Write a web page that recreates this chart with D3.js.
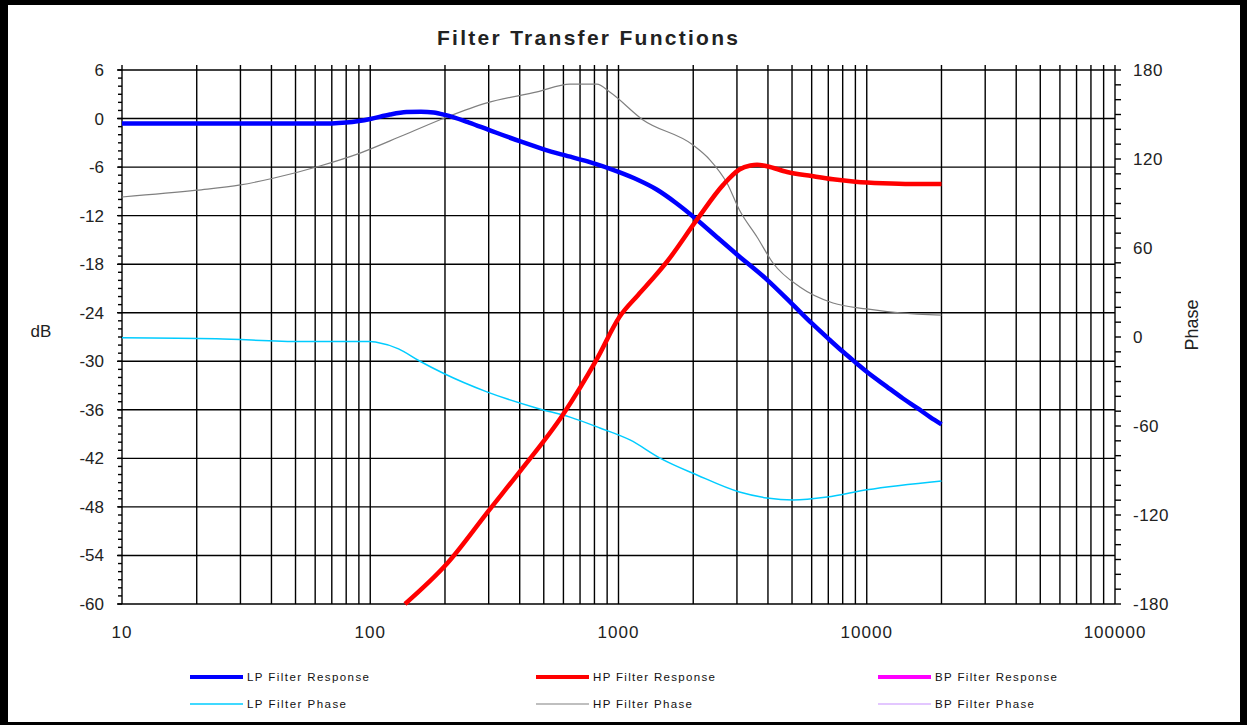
<!DOCTYPE html>
<html>
<head>
<meta charset="utf-8">
<script src="https://cdn.jsdelivr.net/npm/d3@7"></script>
<style>
  body { margin: 0; background: #fff; }
  text { font-family: "Liberation Sans", Arial, sans-serif; fill: #222; }
</style>
</head>
<body>
<div id="chart"></div>
<script>
// LP filter response (dB)
var lpFreq = [10, 20, 50, 70, 80, 90, 100, 120, 140, 160, 180, 200, 250, 300, 400, 500, 600, 750, 1000, 1200, 1430, 1700, 2070, 2500, 3000, 3960, 5000, 6000, 7000, 8000, 9140, 10000, 12000, 14000, 16000, 18000, 20000];
var lpResp = [-0.6, -0.6, -0.6, -0.6, -0.5, -0.3, -0.05, 0.5, 0.8, 0.85, 0.75, 0.45, -0.5, -1.4, -2.8, -3.8, -4.5, -5.3, -6.6, -7.6, -8.8, -10.4, -12.5, -14.7, -16.8, -19.9, -22.9, -25.3, -27.2, -28.8, -30.3, -31.3, -33.1, -34.6, -35.8, -36.9, -37.8];

// HP filter response (dB)
var hpFreq = [138, 204, 303, 401, 597, 819, 1010, 1200, 1400, 1567, 2070, 2640, 3070, 3400, 3614, 3964, 4780, 6000, 7310, 9000, 11600, 15000, 20000];
var hpResp = [-60, -55.0, -48.3, -43.6, -36.6, -29.7, -24.5, -21.8, -19.5, -17.7, -12.5, -8.2, -6.3, -5.8, -5.7, -5.9, -6.6, -7.1, -7.5, -7.8, -8.0, -8.1, -8.1];

// LP phase (degrees)
var lpPhaseFreq = [10, 24, 53, 100, 106, 130, 158, 196, 295, 470, 638, 841, 1112, 1469, 2070, 3070, 3964, 5050, 6920, 10000, 20000];
var lpPhase = [-0.5, -1.2, -3, -3, -3.5, -8, -16.2, -24.3, -37, -48, -54, -61.3, -69.4, -81.6, -93, -104.5, -108.5, -109.9, -107.9, -103, -97];

// HP phase (degrees)
var hpPhaseFreq = [10, 20, 30, 40.6, 62.7, 91, 136, 204, 295, 470, 638, 818, 925, 1256, 1996, 2338, 2735, 3070, 3614, 4190, 5380, 7310, 10000, 13600, 20000];
var hpPhase = [94.4, 99, 102.5, 107, 115.3, 124, 136, 148.3, 157.8, 165.2, 170.5, 170.5, 165, 146.3, 129.4, 119.3, 103.8, 85.6, 67.4, 49.9, 33.7, 22.9, 18.9, 16.2, 14.8];

var xTickLabels = [10, 100, 1000, 10000, 100000];
var dbTicks = [6, 0, -6, -12, -18, -24, -30, -36, -42, -48, -54, -60];
var phaseTicks = [180, 120, 60, 0, -60, -120, -180];

var legendItems = [
    { name: "LP Filter Response", color: "#0000ff", width: 4 },
    { name: "HP Filter Response", color: "#ff0000", width: 4 },
    { name: "BP Filter Response", color: "#ff00ff", width: 4 },
    { name: "LP Filter Phase", color: "#00ccff", width: 1.5 },
    { name: "HP Filter Phase", color: "#808080", width: 1.2 },
    { name: "BP Filter Phase", color: "#c890ff", width: 1.2 }
];

var W = 1247, H = 725;
var margin = { top: 70, right: 132, bottom: 121, left: 122 };

var svg = d3.select("#chart").append("svg")
    .attr("width", W)
    .attr("height", H);

// outer frame
svg.append("rect").attr("x", 0).attr("y", 0).attr("width", W).attr("height", H).attr("fill", "#000");
svg.append("rect").attr("x", 8).attr("y", 5).attr("width", 1232).attr("height", 717).attr("fill", "#fff");

var x = d3.scaleLog().domain([10, 100000]).range([margin.left, W - margin.right]);
var yL = d3.scaleLinear().domain([-60, 6]).range([H - margin.bottom, margin.top]);
var yR = d3.scaleLinear().domain([-180, 180]).range([H - margin.bottom, margin.top]);

var x0 = x.range()[0], x1 = x.range()[1];
var yTop = yL.range()[1], yBot = yL.range()[0];

var grid = svg.append("g").attr("stroke", "#000").attr("stroke-width", 1.4);

// vertical grid lines (1..9 per decade)
grid.selectAll(".vline")
    .data(x.ticks())
    .enter().append("line")
    .attr("x1", function (d) { return x(d); })
    .attr("x2", function (d) { return x(d); })
    .attr("y1", yTop - 5)
    .attr("y2", yBot);

// horizontal grid lines
grid.selectAll(".hline")
    .data(dbTicks)
    .enter().append("line")
    .attr("x1", x0 - 5)
    .attr("x2", x1)
    .attr("y1", function (d) { return yL(d); })
    .attr("y2", function (d) { return yL(d); });

// minor ticks left (1 dB) and right (10 deg)
grid.selectAll(".ltick")
    .data(d3.range(-60, 7, 1))
    .enter().append("line")
    .attr("x1", x0 - 4).attr("x2", x0)
    .attr("y1", function (d) { return yL(d); })
    .attr("y2", function (d) { return yL(d); });

grid.selectAll(".rtick")
    .data(d3.range(-180, 181, 10))
    .enter().append("line")
    .attr("x1", x1).attr("x2", x1 + 6)
    .attr("y1", function (d) { return yR(d); })
    .attr("y2", function (d) { return yR(d); });

// axis labels
svg.selectAll(".xlab")
    .data(xTickLabels)
    .enter().append("text")
    .attr("x", function (d) { return x(d); })
    .attr("y", yBot + 34)
    .attr("text-anchor", "middle")
    .style("font-size", "17px")
    .style("letter-spacing", "1px")
    .text(function (d) { return d; });

svg.selectAll(".ylab")
    .data(dbTicks)
    .enter().append("text")
    .attr("x", x0 - 18)
    .attr("y", function (d) { return yL(d) + 6; })
    .attr("text-anchor", "end")
    .style("font-size", "17px")
    .text(function (d) { return d; });

svg.selectAll(".plab")
    .data(phaseTicks)
    .enter().append("text")
    .attr("x", x1 + 18)
    .attr("y", function (d) { return yR(d) + 6; })
    .attr("text-anchor", "start")
    .style("font-size", "17px")
    .style("letter-spacing", "0.5px")
    .text(function (d) { return d; });

svg.append("text")
    .attr("x", 41).attr("y", 337)
    .attr("text-anchor", "middle")
    .style("font-size", "17px")
    .text("dB");

svg.append("text")
    .attr("transform", "translate(1198,325) rotate(-90)")
    .attr("text-anchor", "middle")
    .style("font-size", "18px")
    .text("Phase");

// title
svg.append("text")
    .attr("x", 437).attr("y", 45)
    .style("font-size", "21px")
    .style("font-weight", "bold")
    .attr("textLength", 301)
    .attr("lengthAdjust", "spacing")
    .text("Filter Transfer Functions");

// curves
function drawCurve(freqs, vals, yScale, color, width) {
    var pts = freqs.map(function (f, i) { return [f, vals[i]]; });
    var line = d3.line()
        .x(function (d) { return x(d[0]); })
        .y(function (d) { return yScale(d[1]); })
        .curve(d3.curveMonotoneX);
    svg.append("path")
        .datum(pts)
        .attr("d", line)
        .attr("fill", "none")
        .attr("stroke", color)
        .attr("stroke-width", width)
        .attr("stroke-linejoin", "round");
}

drawCurve(lpPhaseFreq, lpPhase, yR, "#00ccff", 1.5);
drawCurve(hpPhaseFreq, hpPhase, yR, "#808080", 1.2);
drawCurve(lpFreq, lpResp, yL, "#0000ff", 4.5);
drawCurve(hpFreq, hpResp, yL, "#ff0000", 4.5);

// legend
var legendX = [190, 536, 878];
var legendY = [677, 704];
var leg = svg.selectAll(".legend")
    .data(legendItems)
    .enter().append("g")
    .attr("transform", function (d, i) {
        return "translate(" + legendX[i % 3] + "," + legendY[Math.floor(i / 3)] + ")";
    });

leg.append("line")
    .attr("x1", 0).attr("x2", 53)
    .attr("y1", 0).attr("y2", 0)
    .attr("stroke", function (d) { return d.color; })
    .attr("stroke-width", function (d) { return d.width; });

leg.append("text")
    .attr("x", 57).attr("y", 4)
    .style("font-size", "11.5px")
    .style("fill", "#111")
    .attr("textLength", function (d) { return d.name.indexOf("Phase") > 0 ? 99 : 122; })
    .attr("lengthAdjust", "spacing")
    .text(function (d) { return d.name; });
</script>
</body>
</html>
